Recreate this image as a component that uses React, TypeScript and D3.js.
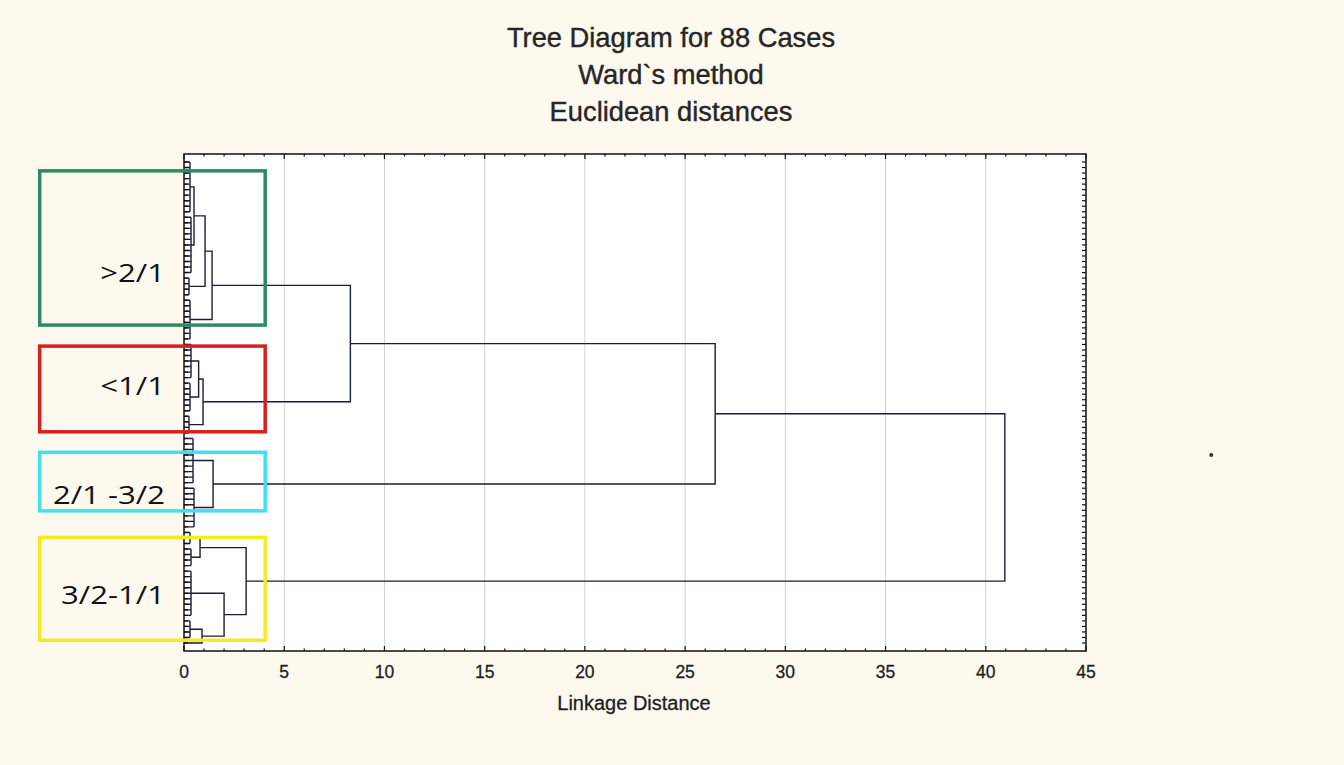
import React, { useEffect, useRef } from "react";
import * as d3 from "d3";

const caseCount = 88;
const xTicks = [0, 5, 10, 15, 20, 25, 30, 35, 40, 45];
const titleLines = ["Tree Diagram for 88 Cases", "Ward`s method", "Euclidean distances"];

// small stacks of cases joined near zero: [id, first case, last case, linkage]
const leafStacks: [string, number, number, number][] = [
  ["gA", 0, 9, 0.3],
  ["gB", 10, 20, 0.35],
  ["gE", 21, 24, 0.25],
  ["gD", 25, 32, 0.3],
  ["rA1", 33, 39, 0.35],
  ["rA2", 40, 45, 0.3],
  ["rB", 46, 49, 0.25],
  ["cA", 50, 58, 0.45],
  ["cB", 59, 66, 0.5],
  ["y1a", 67, 69, 0.3],
  ["y1b", 70, 73, 0.35],
  ["y2a", 74, 82, 0.35],
  ["y2b", 83, 86, 0.3],
  ["y87", 87, 87, 0],
];

// joins: [id, upper child, lower child, linkage distance]
const merges: [string, string, string, number][] = [
  ["gAB", "gA", "gB", 0.5],
  ["gABE", "gAB", "gE", 1.05],
  ["green", "gABE", "gD", 1.4],
  ["redA", "rA1", "rA2", 0.73],
  ["red", "redA", "rB", 0.95],
  ["cyan", "cA", "cB", 1.45],
  ["y1", "y1a", "y1b", 0.8],
  ["y2bb", "y2b", "y87", 0.9],
  ["y2", "y2a", "y2bb", 2.0],
  ["yellow", "y1", "y2", 3.1],
  ["greenRed", "green", "red", 8.3],
  ["upper", "greenRed", "cyan", 26.5],
  ["root", "upper", "yellow", 40.95],
];

// hand drawn groups over the tree
const groupLabels = [">2/1", "<1/1", "2/1 -3/2", "3/2-1/1"];
const groupColors = ["#2e8a66", "#d81f1f", "#3de2ee", "#f4ec1e"];
const groupCaseSpan = [[1.6, 29.5], [33.3, 48.8], [52.5, 63.1], [67.9, 86.5]];
const groupLabelCase = [20.1, 40.5, 60.2, 78.4];
const groupLinkSpan = [-7.2, 4.05];

export default function App() {
  const ref = useRef<SVGSVGElement>(null);

  useEffect(() => {
    const el = ref.current;
    if (!el) return;
    const W = 1344, H = 765;
    const plot = { left: 184, right: 1086, top: 154, bottom: 651 };

    const x = d3.scaleLinear().domain([0, 45]).range([plot.left, plot.right]);
    const y = d3.scaleLinear().domain([0, caseCount - 1]).range([162, 643]);

    const svg = d3.select(el);
    svg.selectAll("*").remove();

    svg.append("rect").attr("width", W).attr("height", H).attr("fill", "#fdf9ef");
    svg
      .append("rect")
      .attr("x", plot.left)
      .attr("y", plot.top)
      .attr("width", plot.right - plot.left)
      .attr("height", plot.bottom - plot.top)
      .attr("fill", "#ffffff");

    // grid
    svg
      .append("g")
      .selectAll("line")
      .data(xTicks.filter(t => t > 0 && t < 45))
      .join("line")
      .attr("x1", d => x(d))
      .attr("x2", d => x(d))
      .attr("y1", plot.top)
      .attr("y2", plot.bottom)
      .attr("stroke", "#d2d2d2")
      .attr("stroke-width", 1);

    // dendrogram
    const nodes = new Map<string, { y: number; h: number }>();
    const p = d3.path();
    leafStacks.forEach(([id, a, b, h]) => {
      if (a === b) {
        nodes.set(id, { y: y(a), h: 0 });
        return;
      }
      for (let i = a; i <= b; i++) {
        p.moveTo(x(0), y(i));
        p.lineTo(x(h), y(i));
      }
      p.moveTo(x(h), y(a));
      p.lineTo(x(h), y(b));
      nodes.set(id, { y: (y(a) + y(b)) / 2, h });
    });
    merges.forEach(([id, l, r, h]) => {
      const L = nodes.get(l)!, R = nodes.get(r)!;
      p.moveTo(x(L.h), L.y);
      p.lineTo(x(h), L.y);
      p.lineTo(x(h), R.y);
      p.lineTo(x(R.h), R.y);
      nodes.set(id, { y: (L.y + R.y) / 2, h });
    });
    svg
      .append("path")
      .attr("d", p.toString())
      .attr("fill", "none")
      .attr("stroke", "#1b1b3e")
      .attr("stroke-width", 1.4);

    // frame + ticks
    const axis = svg.append("g").attr("stroke", "#111").attr("stroke-width", 1.2);
    const cases = d3.range(caseCount);
    axis
      .selectAll("line.l")
      .data(cases)
      .join("line")
      .attr("x1", plot.left)
      .attr("x2", plot.left + 4)
      .attr("y1", d => y(d))
      .attr("y2", d => y(d));
    axis
      .selectAll("line.r")
      .data(cases)
      .join("line")
      .attr("class", "r")
      .attr("x1", plot.right)
      .attr("x2", plot.right - 4)
      .attr("y1", d => y(d))
      .attr("y2", d => y(d));
    const units = d3.range(0, 46);
    [plot.top, plot.bottom].forEach(yy => {
      const dir = yy === plot.top ? 1 : -1;
      axis
        .append("g")
        .selectAll("line")
        .data(units)
        .join("line")
        .attr("x1", d => x(d))
        .attr("x2", d => x(d))
        .attr("y1", yy)
        .attr("y2", d => yy + dir * (d % 5 === 0 ? 5 : 2.5));
    });
    svg
      .append("rect")
      .attr("x", plot.left)
      .attr("y", plot.top)
      .attr("width", plot.right - plot.left)
      .attr("height", plot.bottom - plot.top)
      .attr("fill", "none")
      .attr("stroke", "#111")
      .attr("stroke-width", 1.5);

    const font = "'Liberation Sans', Arial, sans-serif";
    svg
      .append("g")
      .selectAll("text")
      .data(xTicks)
      .join("text")
      .attr("x", d => x(d))
      .attr("y", 678)
      .attr("text-anchor", "middle")
      .attr("font-family", font)
      .attr("font-size", 17.5)
      .attr("fill", "#1e1e1e")
      .attr("stroke", "#1e1e1e")
      .attr("stroke-width", 0.3)
      .text(d => d);
    svg
      .append("text")
      .attr("x", (plot.left + plot.right) / 2 - 1)
      .attr("y", 710)
      .attr("text-anchor", "middle")
      .attr("font-family", font)
      .attr("font-size", 20)
      .attr("fill", "#1e1e1e")
      .attr("stroke", "#1e1e1e")
      .attr("stroke-width", 0.3)
      .text("Linkage Distance");

    svg
      .append("g")
      .selectAll("text")
      .data(titleLines)
      .join("text")
      .attr("x", 671)
      .attr("y", (d, i) => 47 + i * 37)
      .attr("text-anchor", "middle")
      .attr("font-family", font)
      .attr("font-size", 27.3)
      .attr("fill", "#262626")
      .attr("stroke", "#262626")
      .attr("stroke-width", 0.4)
      .text(d => d);

    // group boxes
    const g = svg.append("g");
    groupLabels.forEach((label, i) => {
      const [c0, c1] = groupCaseSpan[i];
      g.append("rect")
        .attr("x", x(groupLinkSpan[0]))
        .attr("y", y(c0))
        .attr("width", x(groupLinkSpan[1]) - x(groupLinkSpan[0]))
        .attr("height", y(c1) - y(c0))
        .attr("fill", "none")
        .attr("stroke", groupColors[i])
        .attr("stroke-width", 3.5);
      g.append("text")
        .attr("transform", `translate(${x(-0.95)},${y(groupLabelCase[i]) + 9}) scale(1.22,1)`)
        .attr("text-anchor", "end")
        .attr("font-family", "'Open Sans', sans-serif")
        .attr("font-size", 25.5)
        .attr("fill", "#111")
        .text(label);
    });

    // stray speck on the right
    svg.append("circle").attr("cx", x(51.25)).attr("cy", y(53)).attr("r", 2).attr("fill", "#333");

    return () => {
      svg.selectAll("*").remove();
    };
  }, []);

  return (
    <svg
      ref={ref}
      width={1344}
      height={765}
      style={{ position: "absolute", left: 0, top: 0, display: "block" }}
    />
  );
}
